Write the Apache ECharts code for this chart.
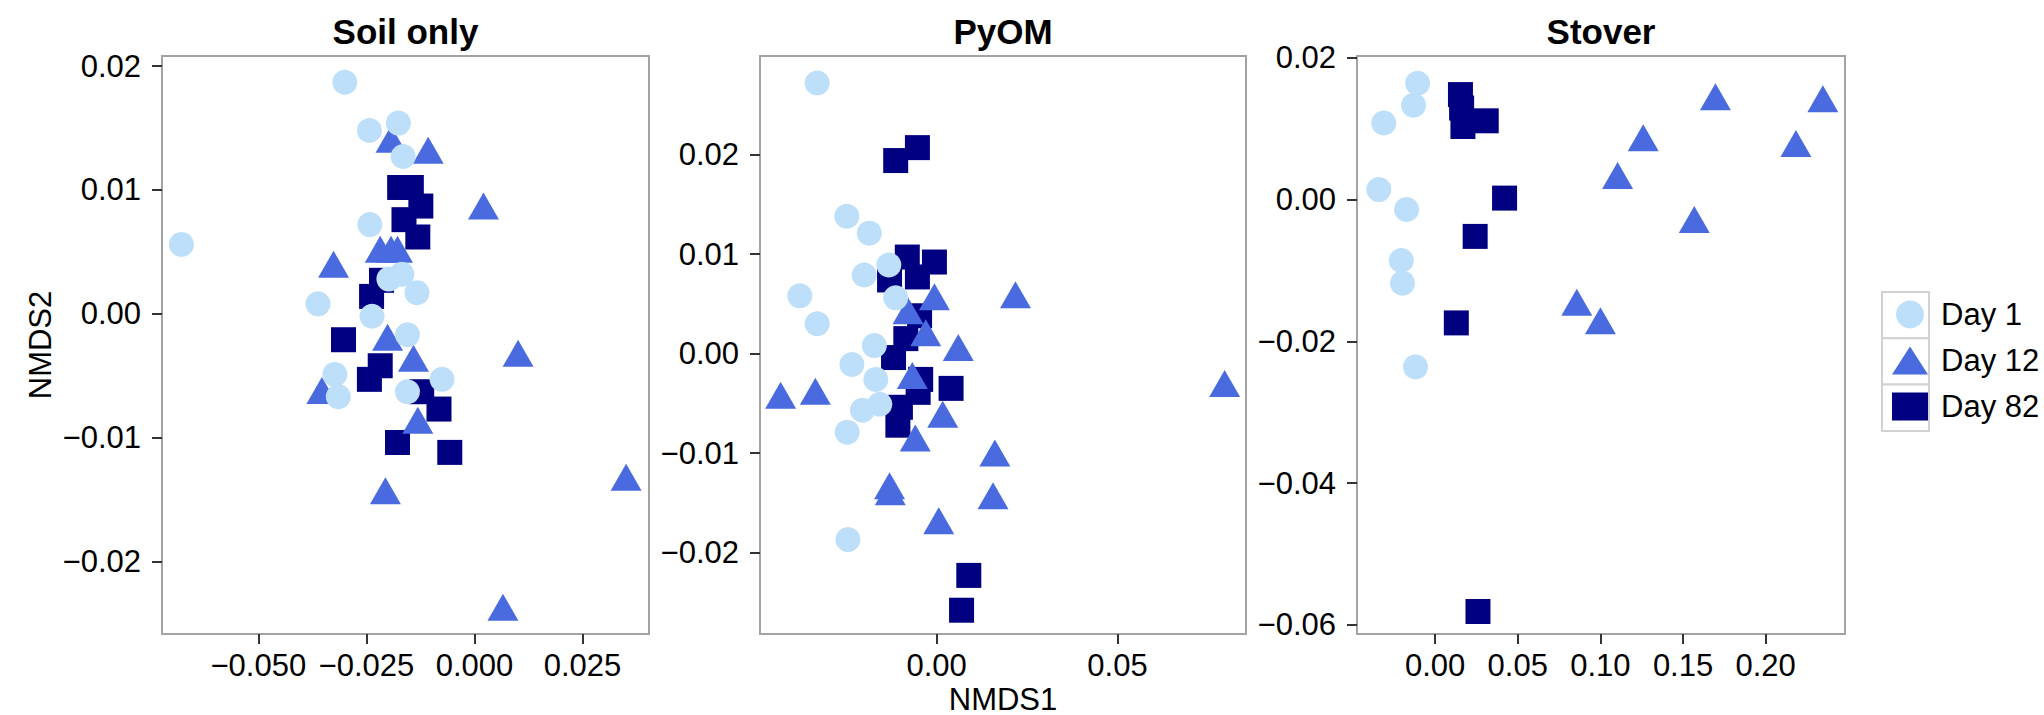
<!DOCTYPE html>
<html><head><meta charset="utf-8">
<script src="https://cdn.jsdelivr.net/npm/echarts@6/dist/echarts.min.js"></script>
<style>html,body{margin:0;padding:0;background:#fff}#c{width:2044px;height:715px}</style>
</head><body><div id="c"></div>
<script>
const panelTitles = ['Soil only', 'PyOM', 'Stover'];
const seriesNames = ['Day 1', 'Day 12', 'Day 82'];
const xAxisTitle = 'NMDS1';
const yAxisTitle = 'NMDS2';

// Soil only
const soilDay1 = [[-0.0300,0.0187],[-0.0678,0.0056],[-0.0243,0.0148],[-0.0176,0.0154],[-0.0165,0.0127],[-0.0242,0.0072],[-0.0198,0.0028],[-0.0168,0.0032],[-0.0133,0.0017],[-0.0362,0.0008],[-0.0237,-0.0002],[-0.0155,-0.0017],[-0.0323,-0.0049],[-0.0315,-0.0067],[-0.0075,-0.0053],[-0.0155,-0.0063]];
const soilDay12 = [[-0.0193,0.0141],[-0.0107,0.0132],[0.0021,0.0087],[-0.0326,0.0040],[-0.0218,0.0052],[-0.0193,0.0052],[-0.0178,0.0052],[-0.0201,-0.0019],[-0.0141,-0.0036],[0.0101,-0.0032],[-0.0353,-0.0062],[-0.0131,-0.0086],[-0.0206,-0.0143],[0.0351,-0.0132],[0.0066,-0.0237]];
const soilDay82 = [[-0.0173,0.0102],[-0.0146,0.0102],[-0.0124,0.0087],[-0.0163,0.0076],[-0.0131,0.0062],[-0.0215,0.0027],[-0.0238,0.0014],[-0.0303,-0.0021],[-0.0218,-0.0042],[-0.0243,-0.0053],[-0.0122,-0.0063],[-0.0082,-0.0077],[-0.0178,-0.0104],[-0.0057,-0.0112]];

// PyOM
const pyomDay1 = [[-0.0330,0.0272],[-0.0248,0.0138],[-0.0186,0.0121],[-0.0132,0.0089],[-0.0200,0.0079],[-0.0378,0.0058],[-0.0113,0.0056],[-0.0330,0.0030],[-0.0172,0.0008],[-0.0234,-0.0011],[-0.0168,-0.0026],[-0.0205,-0.0057],[-0.0157,-0.0051],[-0.0247,-0.0079],[-0.0245,-0.0187]];
const pyomDay12 = [[0.0218,0.0059],[-0.0006,0.0057],[-0.0079,0.0043],[-0.0030,0.0021],[0.0060,0.0006],[-0.0067,-0.0022],[-0.0431,-0.0042],[-0.0335,-0.0038],[0.0017,-0.0061],[-0.0059,-0.0085],[0.0161,-0.0100],[-0.0130,-0.0133],[-0.0128,-0.0139],[0.0156,-0.0143],[0.0006,-0.0168],[0.0796,-0.0030]];
const pyomDay82 = [[-0.0113,0.0194],[-0.0053,0.0207],[-0.0081,0.0097],[-0.0006,0.0092],[-0.0130,0.0074],[-0.0053,0.0077],[-0.0047,0.0038],[-0.0085,0.0015],[-0.0119,-0.0004],[-0.0044,-0.0026],[-0.0051,-0.0039],[0.0040,-0.0035],[-0.0100,-0.0054],[-0.0107,-0.0072],[0.0089,-0.0223],[0.0069,-0.0258]];

// Stover
const stoverDay1 = [[-0.0106,0.0164],[-0.0131,0.0133],[-0.0311,0.0108],[-0.0341,0.0014],[-0.0173,-0.0014],[-0.0205,-0.0086],[-0.0198,-0.0118],[-0.0119,-0.0236]];
const stoverDay12 = [[0.1696,0.0145],[0.2346,0.0142],[0.1259,0.0087],[0.2183,0.0079],[0.1104,0.0034],[0.1568,-0.0028],[0.0857,-0.0145],[0.1000,-0.0171]];
const stoverDay82 = [[0.0153,0.0148],[0.0160,0.0129],[0.0168,0.0103],[0.0309,0.0111],[0.0420,0.0002],[0.0242,-0.0052],[0.0128,-0.0174],[0.0259,-0.0581]];

const panelData = [
  [soilDay1, soilDay12, soilDay82],
  [pyomDay1, pyomDay12, pyomDay82],
  [stoverDay1, stoverDay12, stoverDay82]
];

const xTicks = [[-0.05, -0.025, 0, 0.025], [0, 0.05], [0, 0.05, 0.10, 0.15, 0.20]];
const yTicks = [[-0.02, -0.01, 0, 0.01, 0.02], [-0.02, -0.01, 0, 0.01, 0.02], [-0.06, -0.04, -0.02, 0, 0.02]];
const xDecimals = [3, 2, 2];
const xRanges = [[-0.0723, 0.0404], [-0.0488, 0.0855], [-0.0473, 0.2480]];
const yRanges = [[-0.02587, 0.02082], [-0.02819, 0.02991], [-0.06127, 0.02024]];

const colors = ['#bddff9', '#4a6be0', '#000080'];
const symbols = ['circle', 'triangle', 'rect'];
const symbolSizes = [25, [31, 27], 25];

const FONT = "'Liberation Sans', Arial, Helvetica, sans-serif";
const grids = [
  {left: 162, top: 56, width: 487, height: 578},
  {left: 760, top: 56, width: 486, height: 578},
  {left: 1357, top: 56, width: 488, height: 578}
];

function fmt(v, d) {
  let s = Number(v).toFixed(d);
  if (Number(s) === 0) s = (0).toFixed(d);
  return s.replace('-', '\u2212');
}

const chart = echarts.init(document.getElementById('c'), null, {renderer: 'svg'});

const option = {
  animation: false,
  backgroundColor: '#fff',
  textStyle: {fontFamily: FONT},
  grid: grids.map(g => Object.assign({show: true, borderColor: '#a3a3a3', borderWidth: 2, backgroundColor: 'transparent', containLabel: false}, g)),
  xAxis: grids.map((g, i) => ({
    type: 'value', gridIndex: i, min: xRanges[i][0], max: xRanges[i][1], position: 'bottom',
    splitLine: {show: false}, axisLine: {show: false, onZero: false},
    axisTick: {show: true, length: 10, lineStyle: {color: '#333', width: 2}, customValues: xTicks[i]},
    axisLabel: {customValues: xTicks[i], margin: 16, fontSize: 31, color: '#000', fontFamily: FONT,
      formatter: v => fmt(v, xDecimals[i])}
  })),
  yAxis: grids.map((g, i) => ({
    type: 'value', gridIndex: i, min: yRanges[i][0], max: yRanges[i][1], position: 'left',
    splitLine: {show: false}, axisLine: {show: false, onZero: false},
    axisTick: {show: true, length: 10, lineStyle: {color: '#333', width: 2}, customValues: yTicks[i]},
    axisLabel: {customValues: yTicks[i], margin: 21, fontSize: 31, color: '#000', fontFamily: FONT,
      formatter: v => fmt(v, 2)}
  })),
  legend: {
    orient: 'vertical', left: 1887, top: 294, padding: 5,
    data: seriesNames, itemWidth: 36, itemHeight: 28, itemGap: 15,
    textStyle: {fontSize: 31, color: '#000', fontFamily: FONT, padding: [0, 0, 0, 8]},
    selectedMode: false, z: 10
  },
  graphic: [],
  series: []
};

// draw order: Day 82, Day 12, Day 1 (light circles on top)
for (let p = 0; p < 3; p++) {
  for (let k = 2; k >= 0; k--) {
    option.series.push({
      type: 'scatter', name: seriesNames[k], xAxisIndex: p, yAxisIndex: p,
      data: panelData[p][k], symbol: symbols[k], symbolSize: symbolSizes[k],
      itemStyle: {color: colors[k], opacity: 1}, silent: true, emphasis: {disabled: true}
    });
  }
}

// panel titles
grids.forEach((g, i) => {
  option.graphic.push({type: 'text', x: g.left + g.width / 2, y: 31, z: 5,
    style: {text: panelTitles[i], font: "bold 35px " + FONT, fill: '#000', textAlign: 'center', textVerticalAlign: 'middle'}});
});
// axis titles
option.graphic.push({type: 'text', x: grids[1].left + grids[1].width / 2, y: 699, z: 5,
  style: {text: xAxisTitle, font: "31px " + FONT, fill: '#000', textAlign: 'center', textVerticalAlign: 'middle'}});
option.graphic.push({type: 'text', x: 40, y: grids[0].top + grids[0].height / 2, rotation: Math.PI / 2, z: 5,
  style: {text: yAxisTitle, font: "31px " + FONT, fill: '#000', textAlign: 'center', textVerticalAlign: 'middle'}});
// legend key boxes
for (let k = 0; k < 3; k++) {
  option.graphic.push({type: 'rect', z: 1, shape: {x: 1882, y: 292 + k * 46.3, width: 47, height: 46.3},
    style: {fill: '#fff', stroke: '#d2d2d2', lineWidth: 2}});
}

chart.setOption(option);
</script>
</body></html>
